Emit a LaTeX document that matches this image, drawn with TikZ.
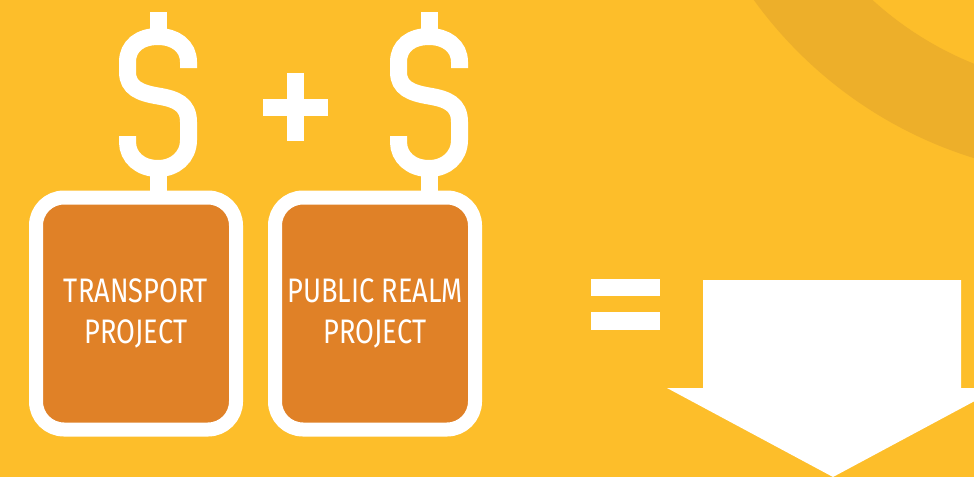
\documentclass[tikz,border=0pt]{standalone}
\usepackage{fontspec}
\newfontfamily\labelfont{Fira Sans}[FakeStretch=0.8]
\definecolor{bgyellow}{HTML}{FDBE2A}
\definecolor{arcyellow}{HTML}{EDAF2A}
\definecolor{boxorange}{HTML}{E08127}
\tikzset{
  projbox/.style={draw=white, line width=14pt, fill=boxorange, rounded corners=28pt,
    minimum width=200pt, minimum height=232pt, inner sep=0pt, text=white, align=center,
    font=\labelfont\fontsize{34}{41}\selectfont},
  dollarpic/.pic={
    \draw[white, line width=17pt, line cap=butt]
      (188.5,68) -- (188.5,62) .. controls (188.5,46) and (175,36.5) .. (158,36.5)
      .. controls (140,36.5) and (127.5,46) .. (127.5,62) -- (127.5,72)
      .. controls (127.5,88) and (140,93) .. (158,96)
      .. controls (176,99) and (188.5,104) .. (188.5,122) -- (188.5,140)
      .. controls (188.5,157) and (175,168.5) .. (158,168.5)
      .. controls (140,168.5) and (127.5,157) .. (127.5,142) -- (127.5,136);
    \fill[white] (149.5,12) rectangle (166.5,40);
    \fill[white] (149.5,165) rectangle (166.5,195);
  }
}
\begin{document}
\begin{tikzpicture}[x=1pt,y=-1pt]
\useasboundingbox (0,0) rectangle (974,477);
\clip (0,0) rectangle (974,477);
\fill[bgyellow] (0,0) rectangle (974,477);
\fill[arcyellow, even odd rule] (1100,-250) circle[radius=427] (1100,-250) circle[radius=338];
% dollar signs
\pic at (0,0) {dollarpic};
\pic at (271,0) {dollarpic};
% plus
\fill[white] (263,99) rectangle (328,116);
\fill[white] (287,73) rectangle (304,141);
% boxes
\node[projbox] (transport) at (136,313.5) {TRANSPORT\\PROJECT};
\node[projbox] (realm) at (375,313.5) {PUBLIC REALM\\PROJECT};
% equals
\fill[white] (591,279) rectangle (660,296);
\fill[white] (591,312) rectangle (660,330);
% arrow
\fill[white] (703,280) -- (961,280) -- (961,388) -- (999,388) -- (833,477) -- (667,388) -- (703,388) -- cycle;
\end{tikzpicture}
\end{document}
